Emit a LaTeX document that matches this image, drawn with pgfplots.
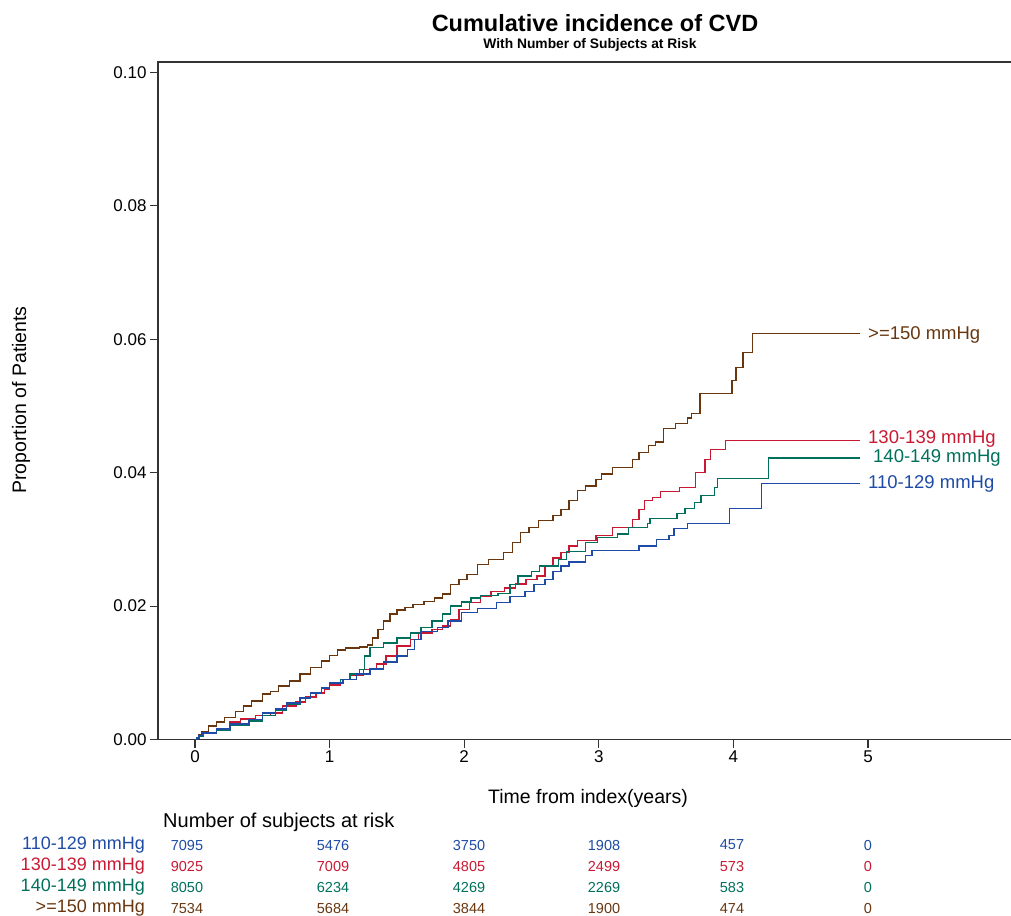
\documentclass[border=0pt]{standalone}
\usepackage{pgfplots}
\pgfplotsset{compat=1.18}
\usepackage{fontspec}
\setmainfont{Liberation Sans}
\definecolor{cBlue}{RGB}{30,75,165}
\definecolor{cRed}{RGB}{200,25,50}
\definecolor{cTeal}{RGB}{0,112,92}
\definecolor{cBrown}{RGB}{105,55,15}
\newcommand{\fs}[1]{\fontsize{#1bp}{#1bp}\selectfont}
\begin{document}
\begin{tikzpicture}
\useasboundingbox (0bp,0bp) rectangle (1011bp,-916bp);
\begin{axis}[
  at={(158bp,-739.5bp)}, anchor=south west,
  scale only axis, width=862bp, height=677.5bp,
  xmin=-0.2749, xmax=6.129, ymin=0, ymax=0.10157,
  xtick={0,1,2,3,4,5}, ytick={0,0.02,0.04,0.06,0.08,0.1},
  yticklabel style={/pgf/number format/fixed,/pgf/number format/fixed zerofill,/pgf/number format/precision=2},
  /pgf/number format/assume math mode=true,
  tick align=outside, xtick pos=left, ytick pos=left, major tick length=8bp,
  tick style={line width=1.2bp, black!80},
  axis line style={line width=1.5bp, black!80},
  ticklabel style={font=\fs{17}},
  every axis plot/.append style={const plot, line width=1.45bp, mark=none},
]
\addplot[cBrown] coordinates {
(0,0) (0.01,0.0003) (0.03,0.0007) (0.05,0.0012) (0.1,0.0020) (0.16,0.0026) (0.22,0.0033) (0.3,0.0042) (0.36,0.0050) (0.42,0.0058) (0.5,0.0068) (0.56,0.0072) (0.62,0.0080) (0.7,0.0088) (0.78,0.0098) (0.86,0.0108) (0.94,0.0118) (1.0,0.0126) (1.06,0.0134) (1.12,0.0137) (1.22,0.0139) (1.28,0.0142) (1.32,0.0152) (1.36,0.0165) (1.40,0.0178) (1.45,0.0188) (1.50,0.0194) (1.56,0.0198) (1.62,0.0202) (1.70,0.0207) (1.78,0.0212) (1.84,0.0218) (1.90,0.0232) (1.96,0.0240) (2.02,0.0247) (2.10,0.0262) (2.18,0.0270) (2.29,0.0280) (2.36,0.0295) (2.42,0.0310) (2.48,0.0318) (2.55,0.0328) (2.66,0.0336) (2.72,0.0345) (2.78,0.0358) (2.84,0.0373) (2.90,0.0380) (2.98,0.0390) (3.02,0.0398) (3.10,0.0408) (3.25,0.0420) (3.30,0.0430) (3.37,0.0441) (3.42,0.0446) (3.48,0.0466) (3.57,0.0474) (3.66,0.0482) (3.69,0.0489) (3.75,0.0519) (3.99,0.0538) (4.02,0.0558) (4.07,0.0580) (4.14,0.0609) (4.94,0.0609)};
\addplot[cRed] coordinates {
(0,0) (0.01,0.0002) (0.03,0.0006) (0.06,0.0010) (0.16,0.0016) (0.26,0.0026) (0.34,0.0031) (0.45,0.0036) (0.56,0.0040) (0.65,0.0050) (0.75,0.0056) (0.82,0.0064) (0.90,0.0070) (0.96,0.0076) (1.0,0.0082) (1.08,0.0090) (1.15,0.0097) (1.25,0.0105) (1.35,0.0113) (1.42,0.0125) (1.50,0.0140) (1.60,0.0150) (1.66,0.0160) (1.76,0.0165) (1.84,0.0170) (1.90,0.0180) (1.96,0.0195) (2.04,0.0205) (2.12,0.0215) (2.20,0.0222) (2.30,0.0227) (2.38,0.0233) (2.46,0.0240) (2.54,0.0245) (2.60,0.0260) (2.66,0.0272) (2.72,0.0280) (2.78,0.0290) (2.84,0.0298) (2.98,0.0306) (3.10,0.0318) (3.25,0.0330) (3.30,0.0345) (3.34,0.0358) (3.40,0.0363) (3.46,0.0372) (3.60,0.0378) (3.72,0.0400) (3.79,0.0420) (3.83,0.0435) (3.94,0.0448) (4.94,0.0448)};
\addplot[cTeal] coordinates {
(0,0) (0.01,0.0002) (0.03,0.0005) (0.06,0.0009) (0.16,0.0014) (0.26,0.0022) (0.40,0.0028) (0.50,0.0036) (0.60,0.0044) (0.68,0.0053) (0.78,0.0062) (0.86,0.0070) (0.94,0.0078) (1.0,0.0084) (1.08,0.0090) (1.15,0.0098) (1.22,0.0105) (1.26,0.0125) (1.30,0.0138) (1.40,0.0145) (1.50,0.0152) (1.60,0.0160) (1.68,0.0168) (1.76,0.0178) (1.84,0.0188) (1.90,0.0200) (1.98,0.0206) (2.05,0.0212) (2.12,0.0216) (2.25,0.0219) (2.34,0.0232) (2.40,0.0245) (2.50,0.0252) (2.56,0.0260) (2.70,0.0270) (2.76,0.0282) (2.90,0.0295) (2.99,0.0303) (3.14,0.0308) (3.22,0.0318) (3.36,0.0324) (3.38,0.0331) (3.58,0.0339) (3.64,0.0346) (3.71,0.0355) (3.76,0.0366) (3.86,0.0378) (3.88,0.0391) (4.26,0.0422) (4.94,0.0422)};
\addplot[cBlue] coordinates {
(0,0) (0.01,0.0002) (0.03,0.0006) (0.06,0.0010) (0.16,0.0016) (0.26,0.0023) (0.40,0.0030) (0.50,0.0040) (0.60,0.0046) (0.68,0.0055) (0.78,0.0062) (0.86,0.0070) (0.94,0.0077) (1.0,0.0085) (1.10,0.0090) (1.20,0.0098) (1.30,0.0106) (1.40,0.0116) (1.50,0.0125) (1.58,0.0135) (1.63,0.0150) (1.68,0.0162) (1.80,0.0168) (1.88,0.0178) (1.98,0.0190) (2.10,0.0196) (2.24,0.0205) (2.34,0.0214) (2.45,0.0222) (2.52,0.0232) (2.60,0.0240) (2.66,0.0252) (2.72,0.0260) (2.78,0.0266) (2.90,0.0276) (2.95,0.0283) (3.30,0.0290) (3.43,0.0300) (3.52,0.0306) (3.56,0.0316) (3.66,0.0324) (3.97,0.0346) (4.21,0.0384) (4.94,0.0384)};
\end{axis}
% titles and axis labels
\node[font=\bfseries\fs{23.5}] at (595bp,-23bp) {Cumulative incidence of CVD};
\node[font=\bfseries\fs{13.8}] at (590bp,-45bp) {With Number of Subjects at Risk};
\node[font=\fs{19.5}] at (588bp,-798bp) {Time from index(years)};
\node[font=\fs{19.5},rotate=90] at (21bp,-400bp) {Proportion of Patients};
% curve end labels
\node[anchor=west,font=\fs{18.5},text=cBrown,inner sep=0pt] at (868bp,-335bp) {>=150 mmHg};
\node[anchor=west,font=\fs{18.5},text=cRed,inner sep=0pt] at (868bp,-439bp) {130-139 mmHg};
\node[anchor=west,font=\fs{18.5},text=cTeal,inner sep=0pt] at (873bp,-458bp) {140-149 mmHg};
\node[anchor=west,font=\fs{18.5},text=cBlue,inner sep=0pt] at (868bp,-484bp) {110-129 mmHg};
% risk table
\node[anchor=west,font=\fs{20},inner sep=0pt] at (163bp,-822bp) {Number of subjects at risk};
\foreach \lab/\col/\yy/\a/\b/\c/\d/\e/\f in {
  110-129 mmHg/cBlue/845/7095/5476/3750/1908/457/0,
  130-139 mmHg/cRed/866/9025/7009/4805/2499/573/0,
  140-149 mmHg/cTeal/887/8050/6234/4269/2269/583/0,
  >=150 mmHg/cBrown/908/7534/5684/3844/1900/474/0}{
  \node[anchor=east,font=\fs{18},text=\col,inner sep=0pt] at (145bp,-\yy bp) {\lab};
  \node[font=\fs{14.5},text=\col,inner sep=0pt] at (187bp,-\yy bp) {\a};
  \node[font=\fs{14.5},text=\col,inner sep=0pt] at (333bp,-\yy bp) {\b};
  \node[font=\fs{14.5},text=\col,inner sep=0pt] at (469bp,-\yy bp) {\c};
  \node[font=\fs{14.5},text=\col,inner sep=0pt] at (604bp,-\yy bp) {\d};
  \node[font=\fs{14.5},text=\col,inner sep=0pt] at (732bp,-\yy bp) {\e};
  \node[font=\fs{14.5},text=\col,inner sep=0pt] at (868bp,-\yy bp) {\f};
}
\end{tikzpicture}
\end{document}
